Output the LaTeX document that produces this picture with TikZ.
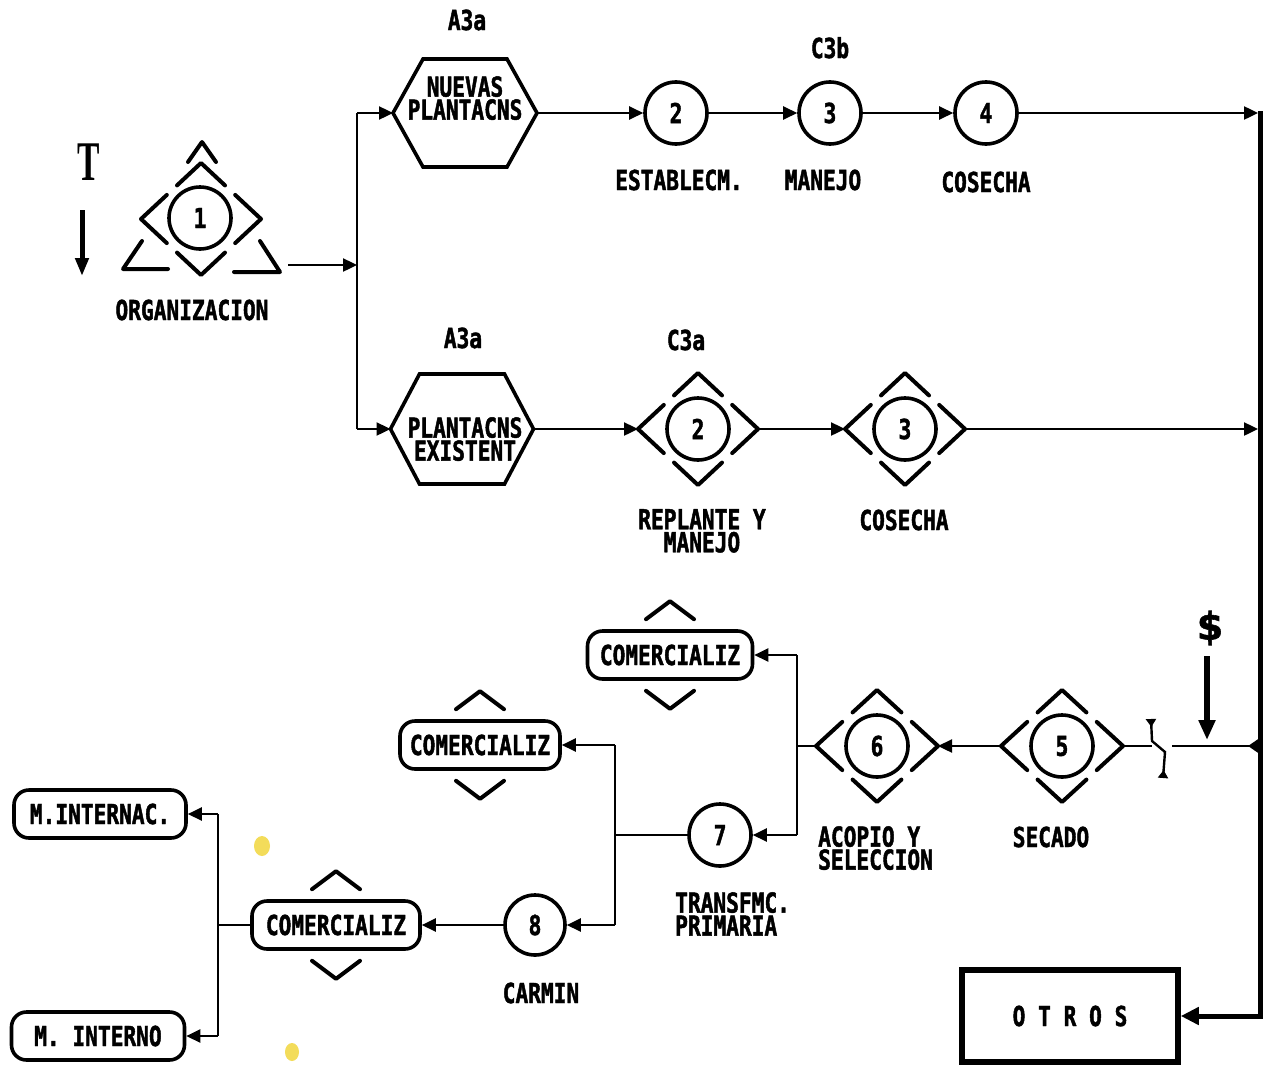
\documentclass[tikz,border=0pt]{standalone}
\usepackage{fontspec}
\newfontfamily\plotf[FakeStretch=0.77,BoldFeatures={FakeBold=1.6}]{DejaVu Sans Mono}
\newfontfamily\tserif[FakeStretch=0.6]{Liberation Serif}
\newfontfamily\dollarf[BoldFeatures={FakeBold=1.5}]{DejaVu Sans}
\usetikzlibrary{arrows.meta,shapes.geometric,calc}
\newcommand\pf{\plotf\bfseries\fontsize{27.5}{23}\selectfont}
\definecolor{hl}{HTML}{F3DC5A}
\newcommand\dchevs[1]{%
  \draw[chev] ($(#1.west)!0.43!(#1.north)$) -- (#1.west) -- ($(#1.west)!0.43!(#1.south)$);
  \draw[chev] ($(#1.east)!0.43!(#1.north)$) -- (#1.east) -- ($(#1.east)!0.43!(#1.south)$);
  \draw[chev] ($(#1.north)!0.4!(#1.west)$) -- (#1.north) -- ($(#1.north)!0.4!(#1.east)$);
  \draw[chev] ($(#1.south)!0.4!(#1.west)$) -- (#1.south) -- ($(#1.south)!0.4!(#1.east)$);}
\newcommand\cchevs[1]{%
  \draw[chev] ($(#1.north)+(-24,-10)$) -- ($(#1.north)+(0,-28)$) -- ($(#1.north)+(24,-10)$);
  \draw[chev] ($(#1.south)+(-24,10)$) -- ($(#1.south)+(0,28)$) -- ($(#1.south)+(24,10)$);}
\begin{document}
\begin{tikzpicture}[x=1pt,y=-1pt,
  conn/.style={line width=2.4pt},
  arr/.style={conn,-{Triangle[length=14pt,width=13pt]}},
  shp/.style={draw,line width=3.6pt},
  circ/.style={shp,circle,minimum size=62pt,inner sep=0pt,font=\pf},
  dia/.style={diamond,minimum width=120pt,minimum height=112pt,inner sep=0pt,outer sep=0pt},
  chev/.style={line width=4pt,line cap=round,line join=round},
  lbl/.style={font=\pf,inner sep=0pt,align=center},
  rbox/.style={shp,rounded corners=15pt,minimum height=48pt,inner sep=0pt,font=\pf},
  hexbox/.style={inner sep=0pt,outer sep=0pt},
]
\useasboundingbox (0,0) rectangle (1271,1068);
\fill[white] (0,0) rectangle (1271,1068);

% ---------- ORGANIZACION ----------
\node[font=\tserif\bfseries\fontsize{56}{56}\selectfont,inner sep=0pt,anchor=base] (tl) at (89,180) {T};
\coordinate (ta1) at (82,210);
\coordinate (ta2) at (82,276);
\draw[line width=5pt,-{Triangle[length=18pt,width=13pt]}] (ta1) -- (ta2);

\node[circ] (org) at (200,218) {1};
\node[dia] (OD) at (201,219) {};
\dchevs{OD}
\draw[chev] (188,162) -- (202,142) -- (216,162);
\draw[chev] (142,241) -- (123,269) -- (168,269);
\draw[chev] (260,241) -- (280,272) -- (234,272);
\node[lbl,anchor=base] (orgl) at (192,320) {ORGANIZACION};

\coordinate (orgout) at (288,265);
\coordinate (busL) at (357,265);
\coordinate (bt) at (357,113);
\coordinate (bb) at (357,429);
\draw[arr] (orgout) -- (busL);
\draw[conn] (bt) -- (bb);

% ---------- row 1 ----------
\node[hexbox,minimum width=144pt,minimum height=108pt] (h1) at (465,113) {};
\draw[shp] (h1.west) -- ($(h1.north west)+(30,0)$) -- ($(h1.north east)+(-30,0)$) -- (h1.east)
  -- ($(h1.south east)+(-30,0)$) -- ($(h1.south west)+(30,0)$) -- cycle;
\node[lbl,anchor=north] (h1t) at (465,76) {NUEVAS\\PLANTACNS};
\node[lbl,anchor=base] (a1) at (467,30) {A3a};

\node[circ] (c2) at (676,113) {2};
\node[circ] (c3) at (830,113) {3};
\node[circ] (c4) at (986,113) {4};
\node[lbl,anchor=base] (l2) at (679,190) {ESTABLECM.};
\node[lbl,anchor=base] (l3) at (823,190) {MANEJO};
\node[lbl,anchor=base] (l4) at (986,192) {COSECHA};
\node[lbl,anchor=base] (cb) at (830,58) {C3b};

\draw[arr] (bt) -- (h1.west);
\draw[arr] (h1.east) -- (c2.west);
\draw[arr] (c2.east) -- (c3.west);
\draw[arr] (c3.east) -- (c4.west);

% ---------- row 2 ----------
\node[hexbox,minimum width=143pt,minimum height=110pt] (h2) at (462,429) {};
\draw[shp] (h2.west) -- ($(h2.north west)+(29,0)$) -- ($(h2.north east)+(-29,0)$) -- (h2.east)
  -- ($(h2.south east)+(-29,0)$) -- ($(h2.south west)+(29,0)$) -- cycle;
\node[lbl,anchor=north] (h2t) at (465,417) {PLANTACNS\\EXISTENT};
\node[lbl,anchor=base] (a2) at (463,348) {A3a};
\node[lbl,anchor=base] (ca) at (686,350) {C3a};

\node[circ] (d2c) at (698,429) {2};
\node[dia] (D2) at (698,429) {};
\dchevs{D2}
\node[circ] (d3c) at (905,429) {3};
\node[dia] (D3) at (905,429) {};
\dchevs{D3}
\node[lbl,anchor=north] (l5) at (702,509) {REPLANTE Y\\MANEJO};
\node[lbl,anchor=base] (l6) at (904,530) {COSECHA};

\draw[arr] (bb) -- (h2.west);
\draw[arr] (h2.east) -- (D2.west);
\draw[arr] (D2.east) -- (D3.west);

% ---------- right bus & OTROS ----------
\coordinate (rbt) at (1260,111);
\coordinate (rbb) at (1260,1016);
\coordinate (r1) at (1258,113);
\coordinate (r2) at (1258,429);
\coordinate (r3) at (1258,746);
\node[draw,line width=5.5pt,minimum width=216pt,minimum height=92pt,inner sep=0pt,font=\pf] (otros) at (1070,1016) {O T R O S};
\draw[line width=5pt,-{Triangle[length=18pt,width=17pt]}] (rbt) -- (rbb) -- (otros.east);
\draw[arr] (c4.east) -- (r1);
\draw[arr] (D3.east) -- (r2);

% ---------- row 3 ----------
\node[font=\dollarf\bfseries\fontsize{38}{38}\selectfont,inner sep=0pt] (dl) at (1210,628) {\$};
\coordinate (da1) at (1207,656);
\coordinate (da2) at (1207,740);
\draw[line width=6pt,-{Triangle[length=20pt,width=16pt]}] (da1) -- (da2);

\coordinate (brkR) at (1172,746);
\coordinate (brkL) at (1152,746);
\draw[conn,{Triangle[reversed,length=10pt,width=13pt]}-] (r3) -- (brkR);
\draw[conn,{Triangle[reversed,length=8pt,width=10pt]}-{Triangle[reversed,length=8pt,width=10pt]}]
  (1151,719) -- (1152,741) -- (1165,752) -- (1163,778);

\node[circ] (d5c) at (1062,746) {5};
\node[dia,minimum width=122pt] (D5) at (1062,746) {};
\dchevs{D5}
\node[circ] (d6c) at (877,746) {6};
\node[dia,minimum width=122pt] (D6) at (877,746) {};
\dchevs{D6}
\node[lbl,anchor=base] (l7) at (1051,847) {SECADO};
\node[lbl,anchor=north west,align=left] (l8) at (818,826) {ACOPIO Y\\SELECCION};

\draw[conn] (D5.east) -- (brkL);
\draw[arr] (D5.west) -- (D6.east);

\node[rbox,minimum width=165pt] (com1) at (670,655) {COMERCIALIZ};
\cchevs{com1}
\node[circ] (c7) at (720,835) {7};
\node[lbl,anchor=north west,align=left] (l9) at (675,892) {TRANSFMC.\\PRIMARIA};

\coordinate (j6) at (797,746);
\coordinate (j6t) at (797,655);
\coordinate (j6b) at (797,835);
\draw[conn] (D6.west) -- (j6);
\draw[conn] (j6t) -- (j6b);
\draw[arr] (j6t) -- (com1.east);
\draw[arr] (j6b) -- (c7.east);

\node[rbox,minimum width=160pt] (com2) at (480,745) {COMERCIALIZ};
\cchevs{com2}
\node[circ,minimum size=60pt] (c8) at (535,925) {8};
\node[lbl,anchor=base] (l10) at (541,1003) {CARMIN};

\coordinate (j7) at (615,835);
\coordinate (j7t) at (615,745);
\coordinate (j7b) at (615,925);
\draw[conn] (c7.west) -- (j7);
\draw[conn] (j7t) -- (j7b);
\draw[arr] (j7t) -- (com2.east);
\draw[arr] (j7b) -- (c8.east);

\node[rbox,minimum width=168pt] (com3) at (336,925) {COMERCIALIZ};
\cchevs{com3}
\draw[arr] (c8.west) -- (com3.east);

\node[rbox,minimum width=172pt] (mi) at (100,814) {M.INTERNAC.};
\node[rbox,minimum width=173pt] (mn) at (98,1036) {M. INTERNO};
\coordinate (j8) at (218,925);
\coordinate (j8t) at (218,814);
\coordinate (j8b) at (218,1036);
\draw[conn] (com3.west) -- (j8);
\draw[conn] (j8t) -- (j8b);
\draw[arr] (j8t) -- (mi.east);
\draw[arr] (j8b) -- (mn.east);

% yellow marks
\fill[hl] (262,846) ellipse (8pt and 10pt);
\fill[hl] (292,1052) ellipse (7pt and 9pt);
\end{tikzpicture}
\end{document}
